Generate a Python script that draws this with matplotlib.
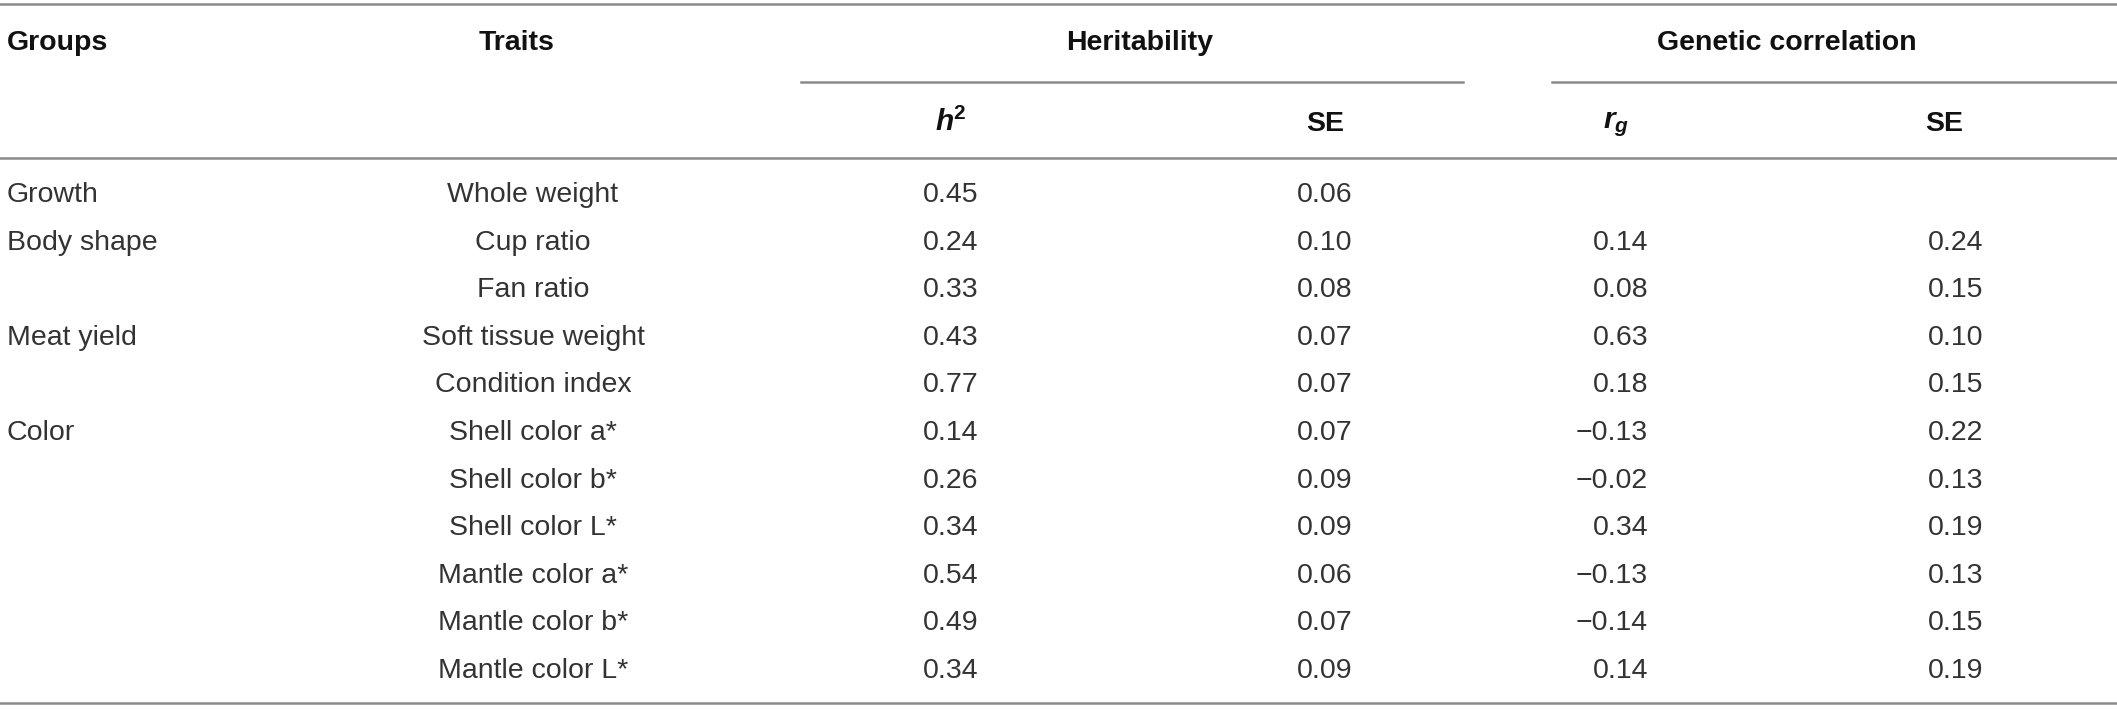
import matplotlib.pyplot as plt

plt.rcParams['font.family'] = ['Liberation Sans', 'DejaVu Sans']
plt.rcParams['mathtext.fontset'] = 'custom'
plt.rcParams['mathtext.rm'] = 'Liberation Sans'
plt.rcParams['mathtext.it'] = 'Liberation Sans:italic'
plt.rcParams['mathtext.bf'] = 'Liberation Sans:bold'
plt.rcParams['mathtext.bfit'] = 'Liberation Sans:italic:bold'

# Table data
groups = ['Growth', 'Body shape', '', 'Meat yield', '', 'Color', '', '', '', '', '']
traits = ['Whole weight', 'Cup ratio', 'Fan ratio', 'Soft tissue weight', 'Condition index',
          'Shell color a*', 'Shell color b*', 'Shell color L*', 'Mantle color a*',
          'Mantle color b*', 'Mantle color L*']
h2 = [0.45, 0.24, 0.33, 0.43, 0.77, 0.14, 0.26, 0.34, 0.54, 0.49, 0.34]
h2_se = [0.06, 0.10, 0.08, 0.07, 0.07, 0.07, 0.09, 0.09, 0.06, 0.07, 0.09]
rg = [None, 0.14, 0.08, 0.63, 0.18, -0.13, -0.02, 0.34, -0.13, -0.14, 0.14]
rg_se = [None, 0.24, 0.15, 0.10, 0.15, 0.22, 0.13, 0.19, 0.13, 0.15, 0.19]

W, H = 2117, 709
fig = plt.figure(figsize=(W / 100, H / 100), dpi=100)
ax = fig.add_axes([0, 0, 1, 1])
ax.set_xlim(0, W)
ax.set_ylim(H, 0)
ax.axis('off')

line_kw = dict(color='#8a8a8a', lw=1.8)
txt = '#333333'
fs = 20.5

# Column positions
x_group = 7
x_trait = 533
x_h2 = 951
x_se1 = 1325
x_rg = 1648
x_se2 = 1956

# horizontal rules
ax.plot([0, W], [4, 4], **line_kw)
ax.plot([801, 1463], [82, 82], **line_kw)
ax.plot([1552, W], [82, 82], **line_kw)
ax.plot([0, W], [158, 158], **line_kw)
ax.plot([0, W], [703, 703], **line_kw)

# headers
hd = dict(fontsize=fs, fontweight='bold', va='center', color='#111111')
ax.text(x_group, 43, 'Groups', ha='left', **hd)
ax.text(517, 43, 'Traits', ha='center', **hd)
ax.text(1140, 43, 'Heritability', ha='center', **hd)
ax.text(1787, 43, 'Genetic correlation', ha='center', **hd)
ax.text(x_h2, 122, r'$\mathbfit{h}^{\mathbf{2}}$', ha='center', fontsize=fs + 1,
        va='center', color='#111111')
ax.text(x_se1, 124, 'SE', ha='center', **hd)
ax.text(1616, 125, r'$\mathbfit{r}_{\mathbfit{g}}$', ha='center', fontsize=fs + 1,
        va='center', color='#111111')
ax.text(1944, 124, 'SE', ha='center', **hd)

# body rows
y0, dy = 195, 47.6
for i in range(len(traits)):
    y = y0 + i * dy
    kw = dict(fontsize=fs, va='center', color=txt)
    if groups[i]:
        ax.text(x_group, y, groups[i], ha='left', **kw)
    ax.text(x_trait, y, traits[i], ha='center', **kw)
    ax.text(x_h2, y, f'{h2[i]:.2f}', ha='center', **kw)
    ax.text(x_se1, y, f'{h2_se[i]:.2f}', ha='center', **kw)
    if rg[i] is not None:
        ax.text(x_rg, y, f'{rg[i]:.2f}'.replace('-', '\u2212'), ha='right', **kw)
        ax.text(x_se2, y, f'{rg_se[i]:.2f}', ha='center', **kw)

fig.savefig('out.png', dpi=100)
